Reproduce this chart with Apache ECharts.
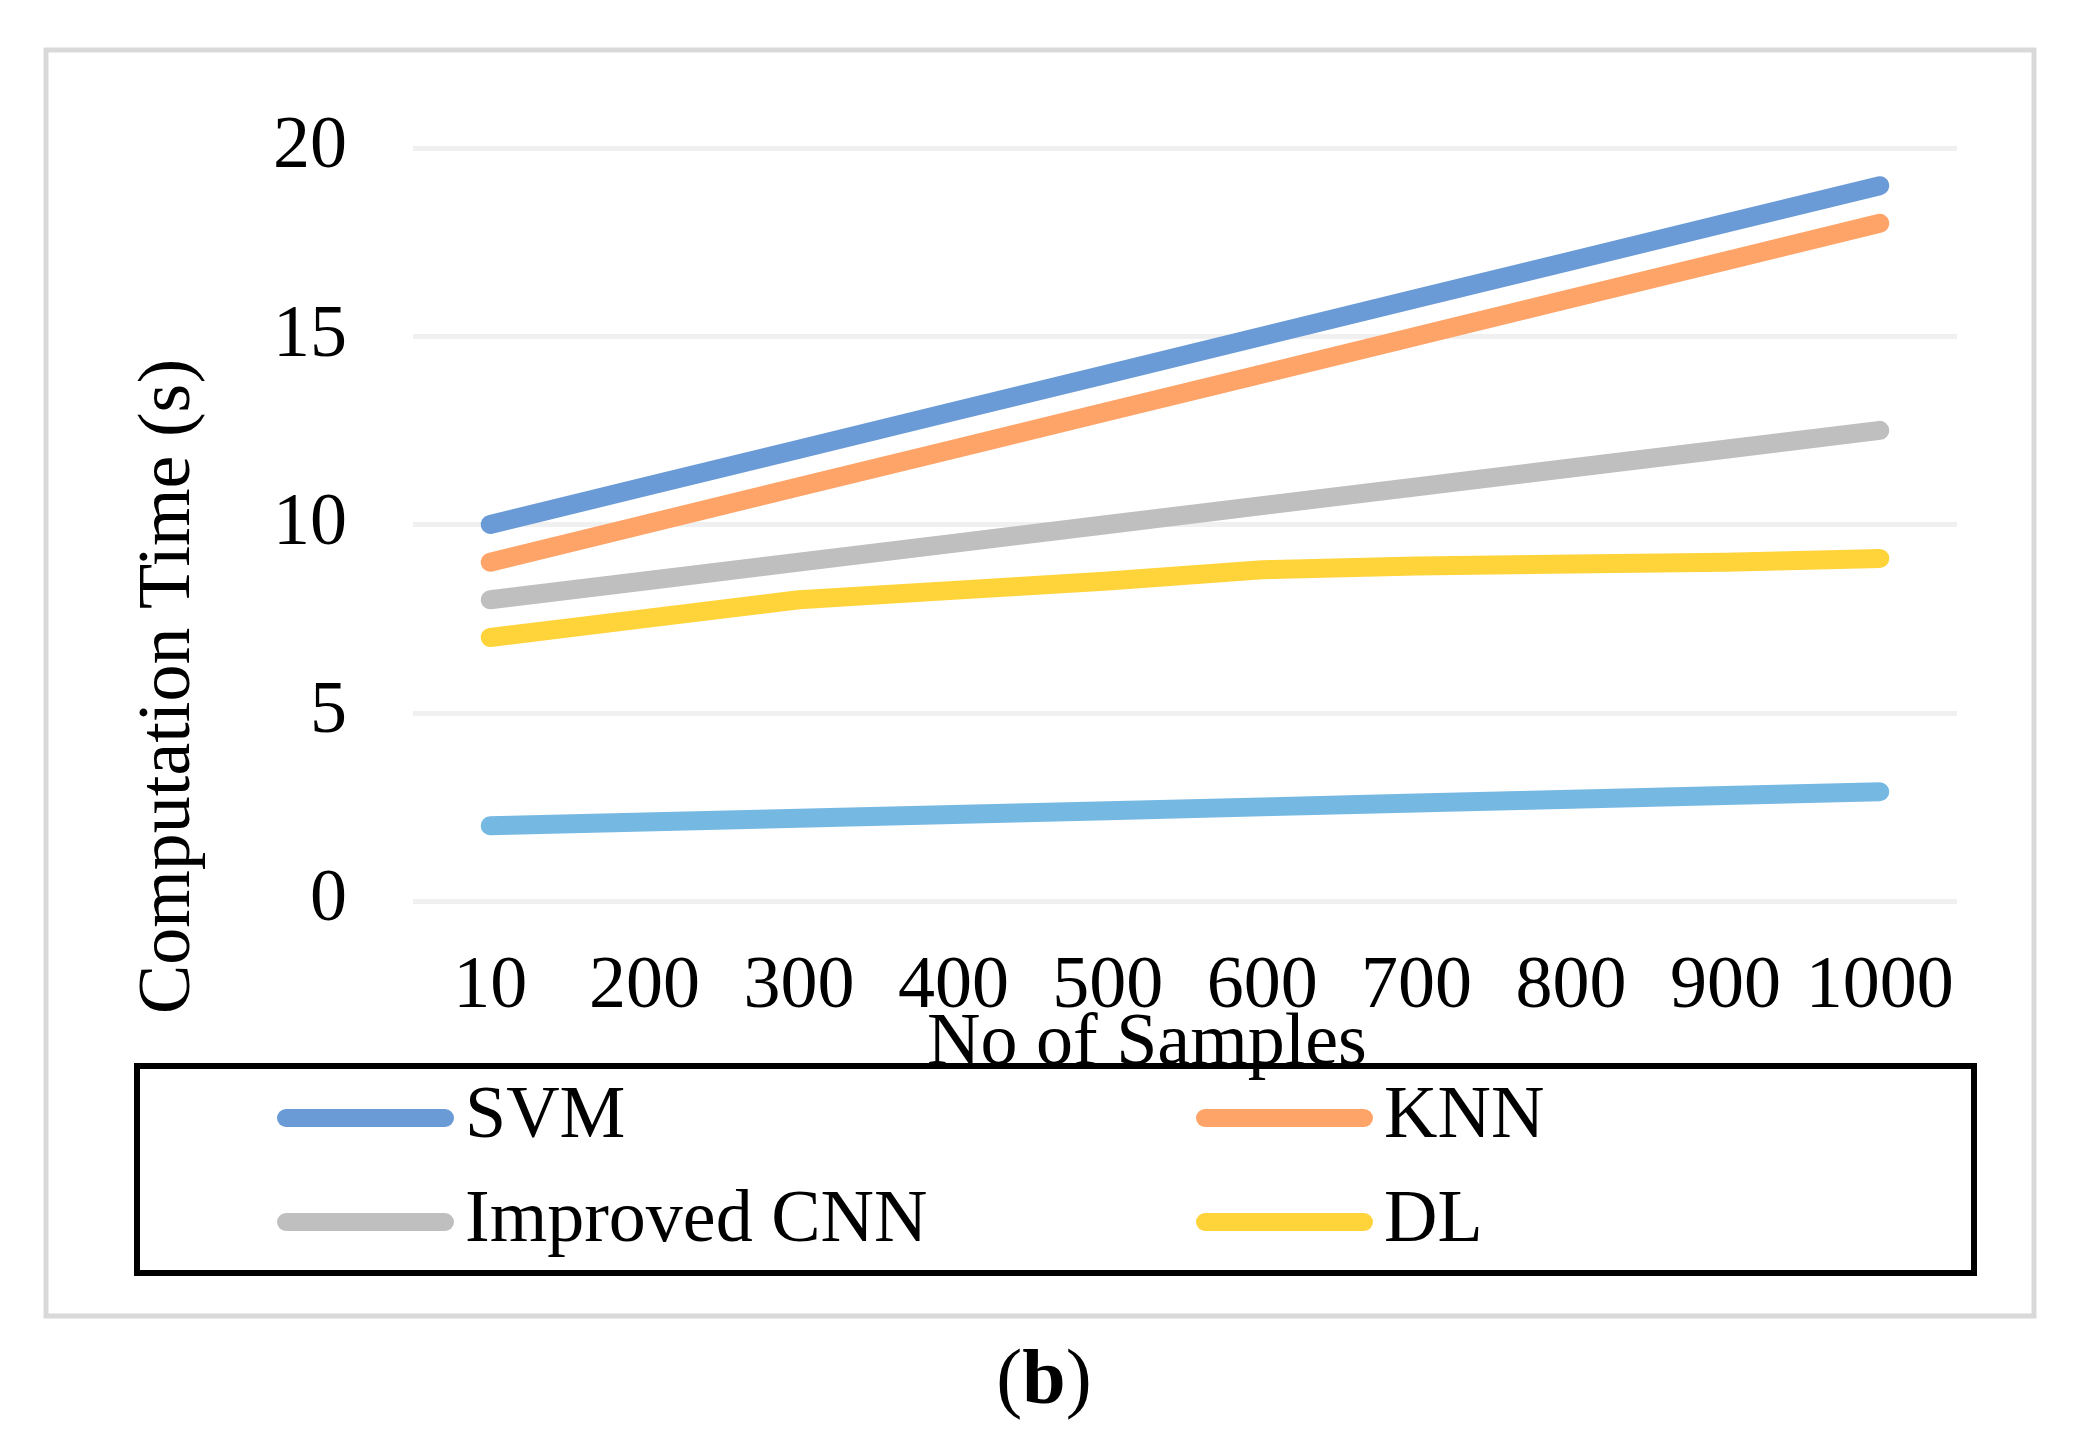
<!DOCTYPE html>
<html>
<head>
<meta charset="utf-8">
<script src="https://cdn.jsdelivr.net/npm/echarts@6/dist/echarts.min.js"></script>
<style>
html,body{margin:0;padding:0;background:#fff;}
#chart{width:2088px;height:1433px;}
</style>
</head>
<body>
<div id="chart"></div>
<script>
const categories = ['10','200','300','400','500','600','700','800','900','1000'];
const svm = [10, 11, 12, 13, 14, 15, 16, 17, 18, 19];
const knn = [9, 10, 11, 12, 13, 14, 15, 16, 17, 18];
const improvedCnn = [8, 8.5, 9, 9.5, 10, 10.5, 11, 11.5, 12, 12.5];
const dl = [7, 7.5, 8, 8.25, 8.5, 8.8, 8.9, 8.95, 9.0, 9.1];
const fifth = [2.0, 2.1, 2.2, 2.3, 2.4, 2.5, 2.6, 2.7, 2.8, 2.9];
const yTicks = {min: 0, max: 20, interval: 5};

const FONT = 'Liberation Serif';
const capsule = 'path://M9,0 H168 A9,9 0 0 1 168,18 H9 A9,9 0 0 1 9,0 Z';

function mkSeries(name, data, color) {
  return {
    name: name, type: 'line', data: data, showSymbol: false, symbol: 'none',
    lineStyle: {color: color, width: 19, cap: 'round', join: 'round'},
    itemStyle: {color: color},
    animation: false
  };
}
function mkLegend(name, left, top) {
  return {
    data: [name], left: left, top: top, padding: 0,
    icon: capsule, itemWidth: 177, itemHeight: 19,
    textStyle: {fontFamily: FONT, fontSize: 74, color: '#000', padding: [0,0,0,6]},
    selectedMode: false
  };
}

const chart = echarts.init(document.getElementById('chart'), null, {renderer: 'canvas'});
chart.setOption({
  backgroundColor: '#fff',
  animation: false,
  grid: {left: 413, right: 2088 - 1957, top: 148, bottom: 1433 - 901},
  xAxis: {
    type: 'category', data: categories, boundaryGap: true,
    axisLine: {show: false}, axisTick: {show: false},
    axisLabel: {interval: 0, margin: 50, fontFamily: FONT, fontSize: 74, color: '#000'},
    name: 'No of Samples', nameLocation: 'middle', nameGap: 107, nameMoveOverlap: false,
    nameTextStyle: {fontFamily: FONT, fontSize: 74, color: '#000', padding: [0, 76, 0, 0]}
  },
  yAxis: {
    type: 'value', min: yTicks.min, max: yTicks.max, interval: yTicks.interval,
    axisLine: {show: false}, axisTick: {show: false},
    axisLabel: {margin: 66, fontFamily: FONT, fontSize: 74, color: '#000'},
    splitLine: {lineStyle: {color: '#F0F0F0', width: 5}},
    name: 'Computation Time (s)', nameLocation: 'middle', nameGap: 206, nameRotate: 90,
    nameTextStyle: {fontFamily: FONT, fontSize: 74, color: '#000', padding: [0, 324, 0, 0]}
  },
  legend: [
    mkLegend('SVM', 277, 1081),
    mkLegend('KNN', 1196, 1081),
    mkLegend('Improved CNN', 277, 1185),
    mkLegend('DL', 1196, 1185)
  ],
  graphic: [
    {type: 'rect', shape: {x: 46, y: 50, width: 2034 - 46, height: 1316 - 50},
     style: {fill: null, stroke: '#D9D9D9', lineWidth: 5}, silent: true, z: -1},
    {type: 'rect', shape: {x: 137, y: 1066, width: 1974 - 137, height: 1273 - 1066},
     style: {fill: null, stroke: '#000', lineWidth: 6}, silent: true, z: -1},
    {type: 'text', left: 'center', top: 1344,
     style: {text: '{p|(}{b|b}{p|)}', rich: {
       p: {fontFamily: FONT, fontSize: 78, fill: '#000'},
       b: {fontFamily: FONT, fontSize: 78, fontWeight: 'bold', fill: '#000'}
     }}, silent: true}
  ],
  series: [
    mkSeries('SVM', svm, '#6A9BD6'),
    mkSeries('KNN', knn, '#FFA469'),
    mkSeries('Improved CNN', improvedCnn, '#BFBFBF'),
    mkSeries('DL', dl, '#FFD43B'),
    mkSeries('Series 5', fifth, '#75B8E2')
  ]
});
</script>
</body>
</html>
